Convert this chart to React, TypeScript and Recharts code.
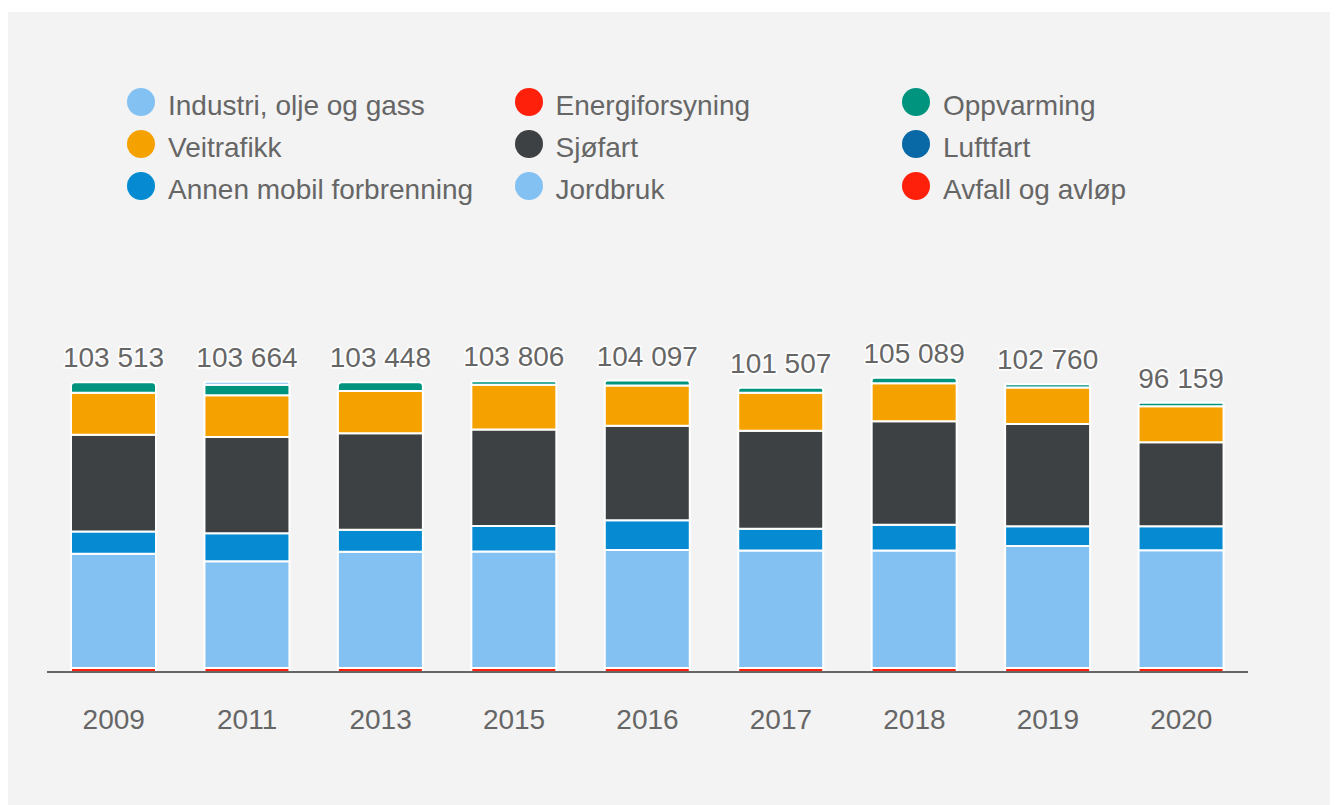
import React from 'react';
import { BarChart, Bar, XAxis, YAxis, Rectangle } from 'recharts';

const years = ['2009', '2011', '2013', '2015', '2016', '2017', '2018', '2019', '2020'];
const totals = [103513, 103664, 103448, 103806, 104097, 101507, 105089, 102760, 96159];

const industri = [0, 1100, 0, 0, 0, 0, 0, 0, 0];
const energiforsyning = [0, 0, 0, 0, 0, 0, 0, 0, 0];
const oppvarming = [3779, 3754, 3048, 1248, 1787, 1780, 1959, 1186, 1242];
const veitrafikk = [14987, 14895, 15090, 15958, 14355, 13558, 13536, 12970, 12870];
const sjofart = [34610, 34398, 34480, 34426, 33720, 34966, 37045, 36547, 30030];
const luftfart = [0, 0, 0, 0, 0, 0, 0, 0, 0];
const annenMobil = [7907, 10002, 7900, 9144, 10670, 7778, 9190, 7094, 8509];
const jordbruk = [40790, 38085, 41490, 41600, 42135, 41995, 41934, 43533, 42078];
const avfall = [1440, 1430, 1440, 1430, 1430, 1430, 1425, 1430, 1430];

// legend order (Highcharts style: first series sits on top of the stack)
const series = [
  { key: 'industri', name: 'Industri, olje og gass', color: '#84c1f3', values: industri },
  { key: 'energi', name: 'Energiforsyning', color: '#ff200c', values: energiforsyning },
  { key: 'oppvarming', name: 'Oppvarming', color: '#00947f', values: oppvarming },
  { key: 'veitrafikk', name: 'Veitrafikk', color: '#f5a200', values: veitrafikk },
  { key: 'sjofart', name: 'Sjøfart', color: '#3e4143', values: sjofart },
  { key: 'luftfart', name: 'Luftfart', color: '#0869a6', values: luftfart },
  { key: 'annenMobil', name: 'Annen mobil forbrenning', color: '#068bd2', values: annenMobil },
  { key: 'jordbruk', name: 'Jordbruk', color: '#84c1f3', values: jordbruk },
  { key: 'avfall', name: 'Avfall og avløp', color: '#ff200c', values: avfall },
];

const stackOrder = [...series].reverse();

const data = years.map((year, i) => {
  const row: Record<string, any> = { year };
  series.forEach((s) => (row[s.key] = s.values[i]));
  return row;
});

const FONT = '"Liberation Sans", Arial, sans-serif';
const TEXT = '#666666';

const topKeyOf = (row: any) => {
  let top = '';
  stackOrder.forEach((s) => {
    if (row[s.key] > 0) top = s.key;
  });
  return top;
};

const makeShape = (key: string) => (props: any) => {
  if (!props.height || props.height <= 0) return null;
  const isTop = props.payload && topKeyOf(props.payload) === key;
  return <Rectangle {...props} radius={isTop ? [4, 4, 0, 0] : 0} />;
};

const TotalLabel = (props: any) => {
  const { x, y, width, index } = props;
  return (
    <text
      x={x + width / 2}
      y={y - 15}
      textAnchor="middle"
      fontFamily={FONT}
      fontSize={28}
      fill={TEXT}
      stroke="#fff"
      strokeWidth={3}
      paintOrder="stroke"
    >
      {totals[index].toLocaleString('nb-NO').replace(/\s/g, ' ')}
    </text>
  );
};

const YearTick = (props: any) => {
  const { x, y, payload } = props;
  return (
    <text x={x} y={y + 55} textAnchor="middle" fontFamily={FONT} fontSize={28} fill={TEXT}>
      {payload.value}
    </text>
  );
};

const App = () => {
  return (
    <div style={{ position: 'relative', width: 1322, height: 793, marginTop: 4, background: '#f3f3f3' }}>
      {/* legend: 3 columns x 3 rows */}
      {series.map((s, i) => (
        <div
          key={s.key}
          style={{
            position: 'absolute',
            left: 119 + (i % 3) * 387.5,
            top: 76 + Math.floor(i / 3) * 42,
            display: 'flex',
            alignItems: 'center',
            height: 28,
          }}
        >
          <div style={{ width: 28, height: 28, borderRadius: 14, background: s.color, marginRight: 13 }} />
          <span
            style={{
              fontFamily: FONT,
              fontSize: 28,
              lineHeight: '28px',
              color: TEXT,
              position: 'relative',
              top: 4,
              whiteSpace: 'nowrap',
            }}
          >
            {s.name}
          </span>
        </div>
      ))}

      <BarChart
        width={1322}
        height={793}
        data={data}
        margin={{ top: 324, right: 82, left: 39, bottom: 73 }}
        style={{ position: 'absolute', left: 0, top: 0 }}
      >
        <XAxis
          dataKey="year"
          height={60}
          tickLine={false}
          tickSize={0}
          axisLine={{ stroke: '#666', strokeWidth: 2 }}
          tick={<YearTick />}
          interval={0}
        />
        <YAxis hide domain={[0, 120000]} allowDataOverflow />
        {stackOrder.map((s, i) => (
          <Bar
            key={s.key}
            dataKey={s.key}
            stackId="a"
            fill={s.color}
            stroke="#ffffff"
            strokeWidth={2}
            barSize={85}
            shape={makeShape(s.key)}
            isAnimationActive={false}
            label={i === stackOrder.length - 1 ? <TotalLabel /> : undefined}
          />
        ))}
      </BarChart>
    </div>
  );
};

export default App;
